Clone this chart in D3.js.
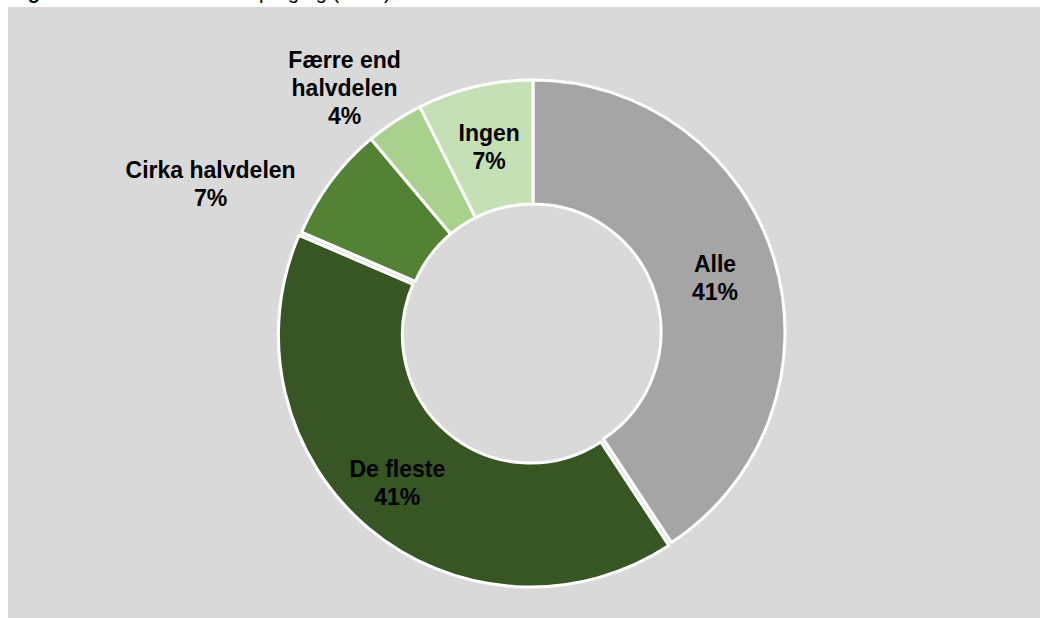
<!DOCTYPE html>
<html>
<head>
<meta charset="utf-8">
<script src="https://cdn.jsdelivr.net/npm/d3@7"></script>
<style>
  body { margin: 0; background: #fff; }
  text { font-family: "Liberation Sans", Arial, sans-serif; }
</style>
</head>
<body>
<script>

// data (n = 27 answers)
var categories = ["Alle", "De fleste", "Cirka halvdelen", "Færre end halvdelen", "Ingen"];
var counts = [11, 11, 2, 1, 2];
var labelLines = [["Alle"], ["De fleste"], ["Cirka halvdelen"], ["Færre end", "halvdelen"], ["Ingen"]];
var colors = ["#a5a5a5", "#375623", "#548235", "#a9d18e", "#c5e0b4"];

var width = 1040;
var height = 618;
var cx = 533, cy = 332;
var outerR = 252, innerR = 128;

// label nudges for slices where the label sits outside / off-centre
var labelNudge = {
    "De fleste": [-11, 2],
    "Cirka halvdelen": [-170, -35],
    "Færre end halvdelen": [-84, -86]
};
var explode = {"De fleste": 4};

var total = d3.sum(counts);
var rows = categories.map((c, i) => ({name: c, value: counts[i], lines: labelLines[i], color: colors[i]}));

var svg = d3.select("body")
.append("svg")
.attr("width", width)
.attr("height", height);

// chart area
svg.append("rect")
.attr("x", 8)
.attr("y", 7)
.attr("width", width - 8)
.attr("height", height - 7)
.attr("fill", "#d9d9d9");

// title, cut off by the top edge like in the source
var title = svg.append("text")
.attr("x", 10)
.attr("y", -1)
.style("font-size", "20px")
.attr("fill", "#000");
title.append("tspan").style("font-weight", "bold").text("Figur 3:");
title.append("tspan").text(" Andel elever med sprogfag (n=" + total + ")");

var pie = d3.pie()
.sort(null)
.value(d => d.value);

var arc = d3.arc()
.innerRadius(innerR)
.outerRadius(outerR);

var arcs = pie(rows);

var g = svg.append("g")
.attr("transform", `translate(${cx},${cy})`);

function offset(d){
    var e = explode[d.data.name] || 0;
    var a = (d.startAngle + d.endAngle) / 2;
    return [e * Math.sin(a), -e * Math.cos(a)];
}

g.selectAll("path")
.data(arcs)
.enter()
.append("path")
.attr("d", arc)
.attr("transform", d => `translate(${offset(d)})`)
.attr("fill", d => d.data.color)
.attr("stroke", "#fff")
.attr("stroke-width", 3)
.attr("stroke-linejoin", "round");

// labels
var lineH = 28;
var labels = g.selectAll("text.lbl")
.data(arcs)
.enter()
.append("text")
.attr("class", "lbl")
.attr("text-anchor", "middle")
.style("font-size", "23px")
.style("font-weight", "bold")
.attr("fill", "#000");

labels.each(function(d){
    var c = arc.centroid(d);
    var o = offset(d);
    var n = labelNudge[d.data.name] || [0, 0];
    var x = c[0] + o[0] + n[0];
    var y = c[1] + o[1] + n[1];
    var lines = d.data.lines.concat([Math.round(d.data.value / total * 100) + "%"]);
    var t = d3.select(this);
    lines.forEach((l, i) => {
        t.append("tspan")
        .attr("x", x)
        .attr("y", y + (i - (lines.length - 1) / 2) * lineH + 8.3)
        .text(l);
    });
});

</script>
</body>
</html>
